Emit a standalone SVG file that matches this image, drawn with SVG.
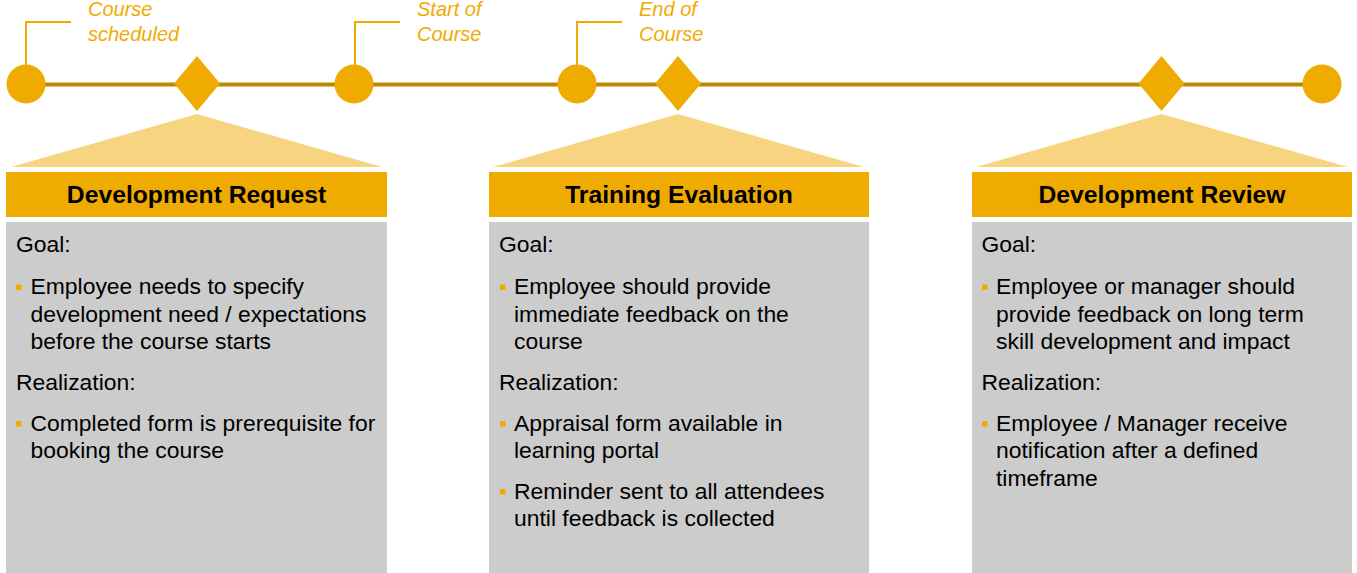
<svg xmlns="http://www.w3.org/2000/svg" width="1357" height="573" viewBox="0 0 1357 573">
<style>
.lbl{font-family:"Liberation Sans",Arial,sans-serif;font-size:20px;font-style:italic;fill:#F0AB00}
.hd{font-family:"Liberation Sans",Arial,sans-serif;font-size:24.7px;font-weight:bold;fill:#000;text-anchor:middle}
.bt{font-family:"Liberation Sans",Arial,sans-serif;font-size:22.9px;fill:#000}
.gold{fill:#F0AB00}
.tri{fill:#F7D480}
.body{fill:#CCCCCC}
.call{fill:none;stroke:#F0AB00;stroke-width:2}
.tl{stroke:#BF8700;stroke-width:4}
</style>
<rect width="1357" height="573" fill="#FFFFFF"/>
<g id="connectors">
<line class="tl" x1="26" y1="84.5" x2="1322" y2="84.5"/>
<polyline class="call" points="26,65 26,22 71,22"/>
<polyline class="call" points="355,65 355,22 400,22"/>
<polyline class="call" points="577,65 577,22 622,22"/>
</g>
<g id="milestone-course-scheduled">
<circle class="gold" cx="26" cy="84" r="19.5"/>
<text class="lbl" x="88" y="15.5">Course</text>
<text class="lbl" x="88" y="40.5">scheduled</text>
</g>
<g id="milestone-start-of-course">
<circle class="gold" cx="354" cy="84" r="19.5"/>
<text class="lbl" x="417" y="15.5">Start of</text>
<text class="lbl" x="417" y="40.5">Course</text>
</g>
<g id="milestone-end-of-course">
<circle class="gold" cx="577" cy="84" r="19.5"/>
<text class="lbl" x="639" y="15.5">End of</text>
<text class="lbl" x="639" y="40.5">Course</text>
</g>
<g id="milestone-end">
<circle class="gold" cx="1322" cy="84" r="19.5"/>
</g>
<g id="development-request">
<polygon class="gold" points="197,56 220,83.5 197,111 174,83.5"/>
<polygon class="tri" points="197,114 382,167 11,167"/>
<rect class="gold" x="6" y="172" width="381" height="45"/>
<text class="hd" x="196.5" y="202.5">Development Request</text>
<rect class="body" x="6" y="222" width="381" height="351"/>
<text class="bt" x="16" y="251.5">Goal:</text>
<rect class="gold" x="16" y="284.5" width="5.5" height="5.5"/>
<text class="bt" x="30.5" y="294">Employee needs to specify</text>
<text class="bt" x="30.5" y="321.5">development need / expectations</text>
<text class="bt" x="30.5" y="349">before the course starts</text>
<text class="bt" x="16" y="389.5">Realization:</text>
<rect class="gold" x="16" y="421" width="5.5" height="5.5"/>
<text class="bt" x="30.5" y="430.5">Completed form is prerequisite for</text>
<text class="bt" x="30.5" y="458">booking the course</text>
</g>
<g id="training-evaluation">
<polygon class="gold" points="678,56 701,83.5 678,111 655,83.5"/>
<polygon class="tri" points="678,114 864,167 493,167"/>
<rect class="gold" x="489" y="172" width="380" height="45"/>
<text class="hd" x="679" y="202.5">Training Evaluation</text>
<rect class="body" x="489" y="222" width="380" height="351"/>
<text class="bt" x="499" y="251.5">Goal:</text>
<rect class="gold" x="500" y="284.5" width="5.5" height="5.5"/>
<text class="bt" x="514" y="294">Employee should provide</text>
<text class="bt" x="514" y="321.5">immediate feedback on the</text>
<text class="bt" x="514" y="349">course</text>
<text class="bt" x="499" y="389.5">Realization:</text>
<rect class="gold" x="500" y="421" width="5.5" height="5.5"/>
<text class="bt" x="514" y="430.5">Appraisal form available in</text>
<text class="bt" x="514" y="458">learning portal</text>
<rect class="gold" x="500" y="489" width="5.5" height="5.5"/>
<text class="bt" x="514" y="498.5">Reminder sent to all attendees</text>
<text class="bt" x="514" y="526">until feedback is collected</text>
</g>
<g id="development-review">
<polygon class="gold" points="1161.5,56 1184.5,83.5 1161.5,111 1138.5,83.5"/>
<polygon class="tri" points="1161.5,114 1348,167 976,167"/>
<rect class="gold" x="972" y="172" width="380" height="45"/>
<text class="hd" x="1162" y="202.5">Development Review</text>
<rect class="body" x="972" y="222" width="380" height="351"/>
<text class="bt" x="981.5" y="251.5">Goal:</text>
<rect class="gold" x="982" y="284.5" width="5.5" height="5.5"/>
<text class="bt" x="996" y="294">Employee or manager should</text>
<text class="bt" x="996" y="321.5">provide feedback on long term</text>
<text class="bt" x="996" y="349">skill development and impact</text>
<text class="bt" x="981.5" y="389.5">Realization:</text>
<rect class="gold" x="982" y="421" width="5.5" height="5.5"/>
<text class="bt" x="996" y="430.5">Employee / Manager receive</text>
<text class="bt" x="996" y="458">notification after a defined</text>
<text class="bt" x="996" y="485.5">timeframe</text>
</g>
</svg>
